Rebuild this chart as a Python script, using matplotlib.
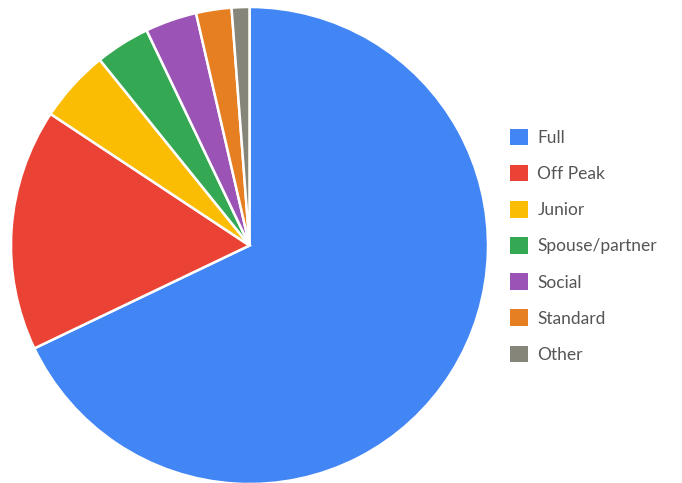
import matplotlib.pyplot as plt
from matplotlib.patches import Patch

labels = ['Full', 'Off Peak', 'Junior', 'Spouse/partner', 'Social', 'Standard', 'Other']
shares = [67.9, 16.4, 4.9, 3.7, 3.5, 2.4, 1.2]
colors = ['#4285F4', '#EA4335', '#FBBC04', '#34A853', '#9B54B5', '#E67E22', '#86857A']

fig = plt.figure(figsize=(6.82, 4.83), dpi=100)
ax = fig.add_axes([11 / 682, -1 / 483, 477 / 682, 477 / 483])

ax.pie(shares, colors=colors, startangle=90, counterclock=False, radius=1,
       wedgeprops=dict(edgecolor='white', linewidth=1.8))
ax.set_xlim(-1.0, 1.0)
ax.set_ylim(-1.0, 1.0)
ax.set_aspect('equal')
ax.axis('off')

handles = [Patch(facecolor=c, edgecolor='none') for c in colors]
leg = fig.legend(handles, labels, loc='upper left', bbox_to_anchor=(494 / 682, 1 - 113 / 483),
                 frameon=False, prop={'family': 'Lato', 'size': 12.5},
                 handlelength=1.05, handleheight=1.1, handletextpad=0.55, labelspacing=1.09)
for t in leg.get_texts():
    t.set_color('#555555')

fig.savefig('out.png', dpi=100)
